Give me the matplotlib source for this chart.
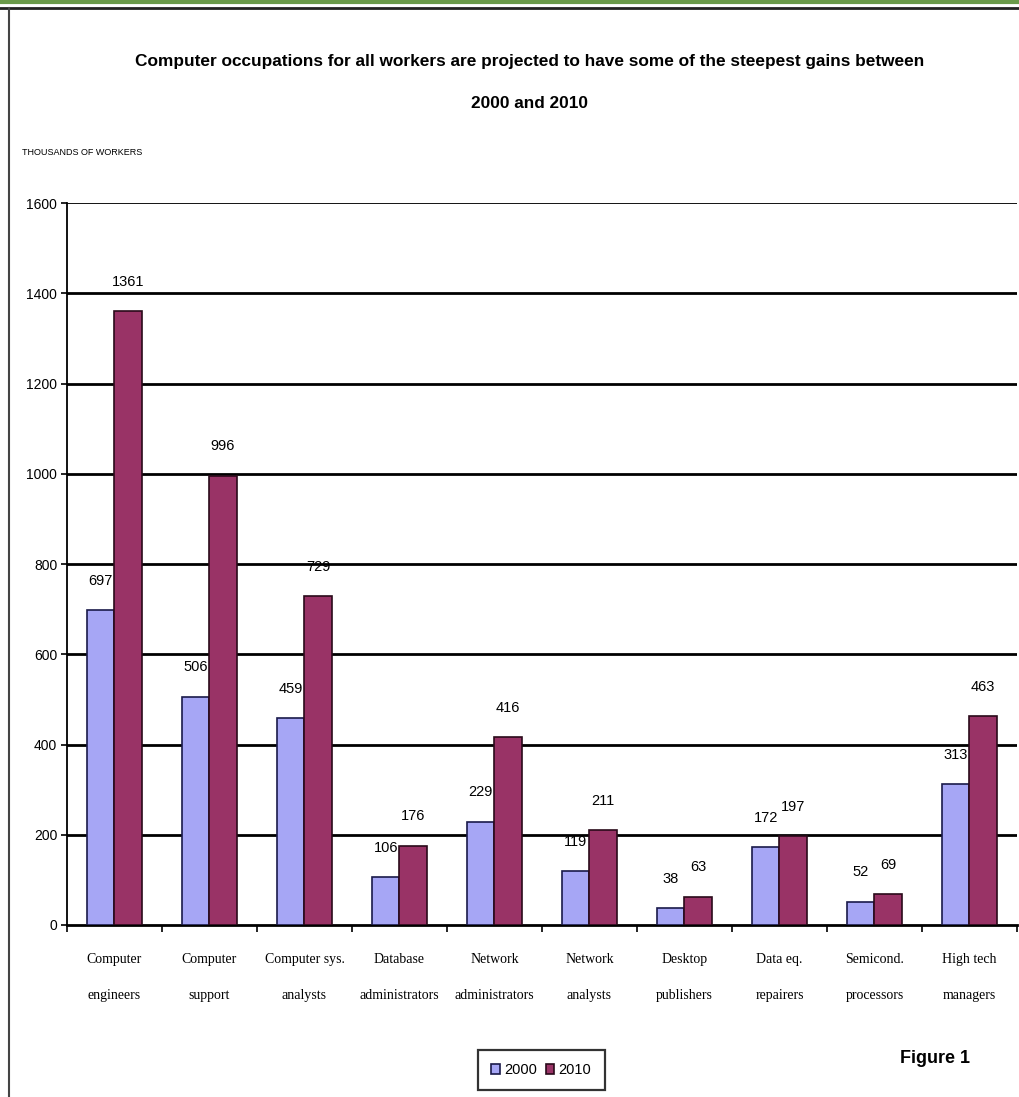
import matplotlib
matplotlib.use('Agg')
import matplotlib.pyplot as plt
import numpy as np
from matplotlib.lines import Line2D

# data
categories = ['Computer\nengineers', 'Computer\nsupport', 'Computer sys.\nanalysts',
              'Database\nadministrators', 'Network\nadministrators', 'Network\nanalysts',
              'Desktop\npublishers', 'Data eq.\nrepairers', 'Semicond.\nprocessors',
              'High tech\nmanagers']
workers_2000 = [697, 506, 459, 106, 229, 119, 38, 172, 52, 313]
workers_2010 = [1361, 996, 729, 176, 416, 211, 63, 197, 69, 463]
series_names = ['2000', '2010']
y_ticks = [0, 200, 400, 600, 800, 1000, 1200, 1400, 1600]

plt.rcParams['font.family'] = ['Liberation Sans', 'DejaVu Sans']

fig = plt.figure(figsize=(10.19, 10.97), dpi=100, facecolor='white')
ax = fig.add_axes([0.0657, 0.1568, 0.9323, 0.6581])

x = np.arange(len(categories))
w = 0.2857
b1 = ax.bar(x - w / 2, workers_2000, w, color='#a6a6f5', edgecolor='#1a1a4a',
            linewidth=1.2, label=series_names[0], zorder=3)
b2 = ax.bar(x + w / 2, workers_2010, w, color='#993366', edgecolor='#2a0a1a',
            linewidth=1.2, label=series_names[1], zorder=3)

for bars in (b1, b2):
    for r in bars:
        ax.annotate(str(int(r.get_height())),
                    (r.get_x() + r.get_width() / 2, r.get_height()),
                    xytext=(0, 16), textcoords='offset points',
                    ha='center', va='bottom', fontsize=10.5, zorder=4)

ax.set_ylim(0, 1600)
ax.set_xlim(-0.5, len(categories) - 0.5)
ax.set_yticks(y_ticks)
ax.tick_params(axis='y', labelsize=10, length=4, width=1.2, direction='out', pad=3)
for g in y_ticks[1:]:
    ax.axhline(g, color='black', linewidth=2 if g < 1600 else 1.3, zorder=1)

ax.set_xticks(x)
ax.set_xticklabels(categories, fontsize=10, family=['Liberation Serif', 'DejaVu Serif'],
                   linespacing=3.3)
ax.tick_params(axis='x', which='major', length=0, pad=20)
ax.set_xticks(np.arange(-0.5, len(categories) + 0.5, 1), minor=True)
ax.tick_params(axis='x', which='minor', length=5, width=1.2, direction='out')

for s in ('top', 'right'):
    ax.spines[s].set_visible(False)
ax.spines['left'].set_linewidth(1.3)
ax.spines['bottom'].set_linewidth(2)

fig.text(0.52, 0.944, 'Computer occupations for all workers are projected to have some of the steepest gains between',
         ha='center', va='center', fontsize=12.4, fontweight='bold')
fig.text(0.52, 0.906, '2000 and 2010', ha='center', va='center', fontsize=12.4, fontweight='bold')
fig.text(0.022, 0.861, 'THOUSANDS OF WORKERS', ha='left', va='center', fontsize=6.5)
fig.text(0.918, 0.035, 'Figure 1', ha='center', va='center', fontsize=13, fontweight='bold')

leg = ax.legend(loc='center', bbox_to_anchor=(0.531, 0.0245), bbox_transform=fig.transFigure,
                ncol=2, fontsize=10.5, handlelength=0.6, handleheight=0.6, handletextpad=0.3,
                columnspacing=0.6, frameon=True, fancybox=False, borderpad=0.9)
leg.get_frame().set_edgecolor('black')
leg.get_frame().set_linewidth(1.6)

# outer frame of the screenshot
fig.add_artist(Line2D([0, 1], [0.998, 0.998], color='#6a9a4a', linewidth=3, transform=fig.transFigure))
fig.add_artist(Line2D([0, 1], [0.993, 0.993], color='#222222', linewidth=2, transform=fig.transFigure))
fig.add_artist(Line2D([0.009, 0.009], [0, 0.993], color='#444444', linewidth=1.5, transform=fig.transFigure))

fig.savefig('out.png', dpi=100, facecolor='white')
